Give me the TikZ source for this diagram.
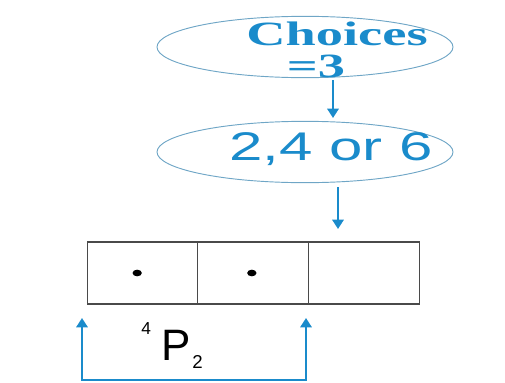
\documentclass[tikz,border=0pt]{standalone}
\usepackage{fontspec}
\setmainfont{Liberation Serif}
\setsansfont{Liberation Sans}
\usetikzlibrary{positioning,arrows.meta,shapes.geometric}
\definecolor{chBlue}{HTML}{1A8BCB}
\definecolor{chEdge}{HTML}{6FA6C6}
\definecolor{chGris}{HTML}{4A4A4A}

\begin{document}
\begin{tikzpicture}[x=0.75pt, y=-0.75pt,
      oval/.style={ellipse, draw=chEdge, line width=0.7pt, inner sep=0pt,
                   minimum width=222pt, minimum height=46pt},
      casilla/.style={rectangle, draw=chGris, line width=0.9pt, outer sep=0pt,
                      minimum width=83pt, minimum height=46.5pt},
      punto/.style={ellipse, fill=black, inner sep=0pt,
                    minimum width=7pt, minimum height=5pt},
      flecha/.style={-{Triangle[width=8.5pt,length=7pt]}, chBlue, line width=1.6pt},
      every node/.style={inner sep=0pt}]
    \useasboundingbox (0,0) rectangle (505,382);
    % ovals
    \node[oval] (choice) at (305,47)  {};
    \node[oval] (opts)   at (305,152) {};
    \node[font=\bfseries\fontsize{25.5}{26}\selectfont, text=chBlue] (choiceTxt) at (337,34)
      {\scalebox{1.6}[1]{Choices}};
    \node[font=\bfseries\fontsize{25.5}{26}\selectfont, text=chBlue] (eqTxt) at (316,66)
      {\scalebox{1.6}[1]{=3}};
    \node[font=\sffamily\fontsize{30}{31}\selectfont, text=chBlue] (optsTxt) at (331,149)
      {\scalebox{1.5}[1]{2,4 or 6}};
    % boxes
    \node[casilla] (c1) at (142.5,273) {};
    \node[casilla, right=0pt of c1] (c2) {};
    \node[casilla, right=0pt of c2] (c3) {};
    \node[punto] at ([xshift=-4pt]c1.center) {};
    \node[punto] at ([xshift=-1pt]c2.center) {};
    % arrows
    \coordinate (a1) at (333,80);
    \coordinate (a2) at (333,118);
    \coordinate (b1) at (338,187);
    \coordinate (b2) at (338,229);
    \draw[flecha] (a1) -- (a2);
    \draw[flecha] (b1) -- (b2);
    % bracket under the first two boxes
    \coordinate (lt) at (82,318);
    \coordinate (lb) at (82,380);
    \coordinate (rb) at (306,380);
    \coordinate (rt) at (306,318);
    \draw[flecha, {Triangle[width=8.5pt,length=7pt]}-{Triangle[width=8.5pt,length=7pt]}]
      (lt) -- (lb) -- (rb) -- (rt);
    \node[font=\sffamily\fontsize{33}{34}\selectfont, anchor=base west] (perm) at (141,360)
      {\raisebox{19pt}{\fontsize{13}{14}\selectfont 4}\hspace{8pt}P\hspace{1pt}\raisebox{-6pt}{\fontsize{14}{15}\selectfont 2}};
  \end{tikzpicture}
\end{document}
